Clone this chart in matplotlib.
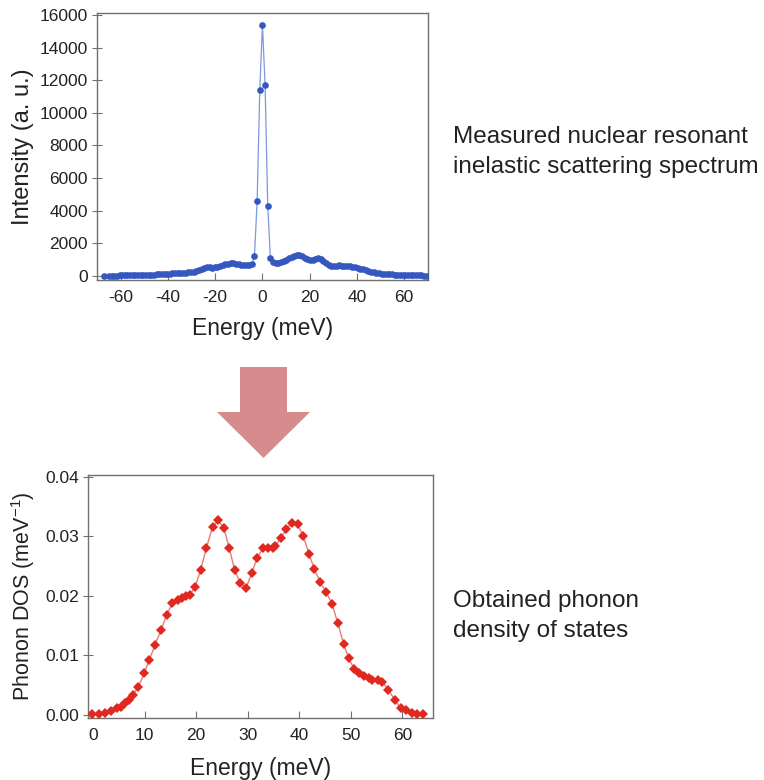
#!/usr/bin/env python3
"""
NRIXS spectrum and the phonon density of states derived from it.
"""

import numpy as np
import matplotlib.pyplot as plt
from matplotlib.patches import FancyArrow

plt.rcParams['font.family'] = ['Liberation Sans', 'DejaVu Sans']
plt.rcParams['mathtext.default'] = 'regular'
plt.rcParams['axes.unicode_minus'] = False

# --- measured spectrum (energy grid step ~1.12 meV, channel 0 = elastic line) ---
spec_step = 1.12
spec_channels = np.arange(-58, 63)
spec_intensity = [
    20, 20, 25, 25, 30, 30, 30, 35, 35, 40,
    40, 45, 50, 55, 60, 65, 70, 80, 90, 100,
    110, 120, 130, 140, 150, 160, 170, 180, 190, 200,
    220, 240, 260, 300, 350, 410, 480, 540, 530, 510,
    520, 560, 610, 660, 720, 760, 790, 780, 750, 720,
    680, 650, 640, 660, 720, 1250, 4600, 11400, 15400, 11700,
    4300, 1100, 830, 800, 810, 840, 900, 980, 1080, 1180,
    1250, 1310, 1280, 1200, 1100, 1010, 970, 1000, 1060, 1080,
    1040, 930, 800, 700, 630, 600, 620, 650, 630, 610,
    600, 590, 570, 540, 500, 450, 400, 350, 300, 260,
    220, 190, 160, 140, 120, 110, 100, 90, 80, 70,
    60, 55, 50, 45, 40, 40, 35, 30, 30, 25,
    25,
]
# lone point at the far left of the scan
lone_energy = [-67.2]
lone_intensity = [20]

# --- phonon DOS ---
dos_energy = [
    -0.2, 1.1, 2.4, 3.5, 4.6, 5.4, 6.2, 6.9, 7.7, 8.8,
    9.9, 10.9, 12.0, 13.2, 14.3, 15.4, 16.4, 17.2, 18.0, 18.8,
    19.8, 20.9, 22.0, 23.2, 24.3, 25.4, 26.4, 27.5, 28.6, 29.7,
    30.8, 31.8, 33.0, 33.9, 34.9, 35.4, 36.5, 37.5, 38.6, 39.7,
    40.8, 41.9, 42.9, 44.0, 45.2, 46.4, 47.5, 48.6, 49.6, 50.7,
    51.6, 52.6, 53.6, 54.2, 55.2, 56.1, 57.3, 58.6, 59.7, 60.8,
    61.8, 62.9, 64.0,
]
dos_value = [
    0.0002, 0.0002, 0.0004, 0.0007, 0.0011, 0.0014, 0.0020, 0.0025, 0.0034, 0.0047,
    0.0070, 0.0092, 0.0117, 0.0143, 0.0168, 0.0188, 0.0193, 0.0197, 0.0200, 0.0202,
    0.0215, 0.0244, 0.0281, 0.0316, 0.0327, 0.0314, 0.0281, 0.0243, 0.0221, 0.0214,
    0.0238, 0.0263, 0.0281, 0.0281, 0.0281, 0.0284, 0.0298, 0.0312, 0.0323, 0.0320,
    0.0300, 0.0271, 0.0246, 0.0224, 0.0207, 0.0186, 0.0154, 0.0120, 0.0095, 0.0077,
    0.0071, 0.0066, 0.0062, 0.0059, 0.0059, 0.0056, 0.0042, 0.0025, 0.0011, 0.0008,
    0.0004, 0.0002, 0.0002,
]

spec_x_ticks = [-60, -40, -20, 0, 20, 40, 60]
spec_y_ticks = [0, 2000, 4000, 6000, 8000, 10000, 12000, 14000, 16000]
dos_x_ticks = [0, 10, 20, 30, 40, 50, 60]
dos_y_ticks = [0.00, 0.01, 0.02, 0.03, 0.04]

BLUE = '#3558c0'
BLUE_LINE = '#7f97dc'
RED = '#e02820'
RED_LINE = '#e87a74'
SPINE = '#707070'
ARROW = '#d68c8c'
TEXT = '#222222'


def style_axes(ax):
    for s in ax.spines.values():
        s.set_color(SPINE)
        s.set_linewidth(1.0)
    ax.tick_params(axis='x', direction='in', length=5, color=SPINE,
                   labelsize=12.5, labelcolor=TEXT, pad=7)
    ax.tick_params(axis='y', direction='inout', length=7, color=SPINE,
                   labelsize=12.5, labelcolor=TEXT, pad=3)


def main():
    fig = plt.figure(figsize=(7.64, 7.80), dpi=100)

    # top panel: measured spectrum
    ax1 = fig.add_axes([0.127, 0.641, 0.433, 0.342])
    spec_energy = spec_channels * spec_step
    ax1.plot(spec_energy, spec_intensity, color=BLUE_LINE, linewidth=0.9, zorder=2)
    ax1.plot(spec_energy, spec_intensity, linestyle='none', marker='o',
             markersize=4.8, color=BLUE, markeredgewidth=0, zorder=3)
    ax1.plot(lone_energy, lone_intensity, linestyle='none', marker='o',
             markersize=4.8, color=BLUE, markeredgewidth=0, zorder=3)
    ax1.set_xlim(-70, 70)
    ax1.set_ylim(-250, 16100)
    ax1.set_xticks(spec_x_ticks)
    ax1.set_yticks(spec_y_ticks)
    style_axes(ax1)
    ax1.set_xlabel('Energy (meV)', fontsize=16.5, color=TEXT, labelpad=9)
    ax1.set_ylabel('Intensity (a. u.)', fontsize=17, color=TEXT, labelpad=4)

    # bottom panel: phonon DOS
    ax2 = fig.add_axes([0.115, 0.0795, 0.452, 0.3115])
    ax2.plot(dos_energy, dos_value, color=RED_LINE, linewidth=1.0, zorder=2)
    ax2.plot(dos_energy, dos_value, linestyle='none', marker='D',
             markersize=5.2, color=RED, markeredgewidth=0, zorder=3)
    ax2.set_xlim(-1, 66)
    ax2.set_ylim(-0.0005, 0.0403)
    ax2.set_xticks(dos_x_ticks)
    ax2.set_yticks(dos_y_ticks)
    ax2.set_xticklabels([str(t) for t in dos_x_ticks])
    ax2.set_yticklabels([f'{t:.2f}' for t in dos_y_ticks])
    style_axes(ax2)
    ax2.set_xlabel('Energy (meV)', fontsize=16.5, color=TEXT, labelpad=10)
    ax2.set_ylabel(r'Phonon DOS (meV$^{-1}$)', fontsize=15.5, color=TEXT, labelpad=6)

    # big arrow between the panels (inch coords == pixels / 100)
    fig.patches.append(FancyArrow(
        2.635, 4.13, 0, -0.45, width=0.47, head_width=0.93, head_length=0.46,
        length_includes_head=False, color=ARROW, linewidth=0,
        transform=fig.dpi_scale_trans, figure=fig))

    # captions on the right
    fig.text(453 / 764, 1 - 152 / 780, 'Measured nuclear resonant\ninelastic scattering spectrum',
             fontsize=17.5, color=TEXT, va='center', ha='left', linespacing=1.42)
    fig.text(453 / 764, 1 - 616 / 780, 'Obtained phonon\ndensity of states',
             fontsize=17.5, color=TEXT, va='center', ha='left', linespacing=1.42)

    fig.savefig('out.png', dpi=100, facecolor='white')
    plt.close(fig)


if __name__ == '__main__':
    main()
